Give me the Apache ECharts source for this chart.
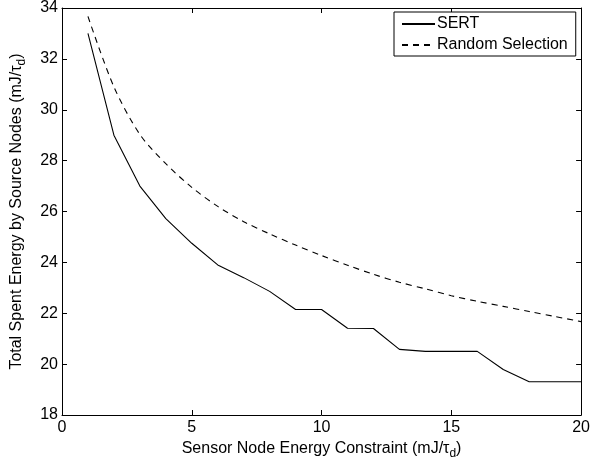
<!DOCTYPE html>
<html>
<head>
<meta charset="utf-8">
<script src="https://cdn.jsdelivr.net/npm/echarts@6/dist/echarts.min.js"></script>
<style>
html,body{margin:0;padding:0;background:#fff;}
#c{width:593px;height:465px;}
</style>
</head>
<body>
<div id="c"></div>
<script>
var xValues = [1,2,3,4,5,6,7,8,9,10,11,12,13,14,15,16,17,18,19,20];
var sertValues = [33.0,29.0,27.0,25.72,24.75,23.9,23.4,22.86,22.15,22.15,21.41,21.4,20.58,20.5,20.5,20.5,19.79,19.31,19.31,19.31];
var randomValues = [33.67,30.9,29.03,27.88,26.95,26.2,25.6,25.12,24.68,24.27,23.89,23.53,23.22,22.96,22.69,22.47,22.27,22.07,21.87,21.67];
var seriesNames = ['SERT','Random Selection'];
var xTicks = [0,5,10,15,20];
var yTicks = [18,20,22,24,26,28,30,32,34];

var FONT = 'Liberation Sans, Arial, Helvetica, sans-serif';
function pairs(xs, ys){ return xs.map(function(x,i){ return [x, ys[i]]; }); }

var subRich = {
  n: {fontFamily: FONT, fontSize: 16, color: '#000'},
  s: {fontFamily: FONT, fontSize: 12, color: '#000', padding: [10,0,0,0]}
};

var chart = echarts.init(document.getElementById('c'), null, {renderer: 'canvas'});
var axisCommon = {
  type: 'value',
  axisLine: {show: true, onZero: false, lineStyle: {color: '#000', width: 1}},
  axisTick: {show: true, inside: true, length: 5, lineStyle: {color: '#000', width: 1}},
  splitLine: {show: false}
};
chart.setOption({
  animation: false,
  backgroundColor: '#fff',
  grid: {left: 62, right: 10, top: 5, bottom: 48, containLabel: false},
  legend: {
    orient: 'vertical',
    left: 394, top: 12,
    padding: [4, 8, 3, 7],
    itemGap: 5,
    itemWidth: 33, itemHeight: 15,
    backgroundColor: '#fff',
    borderColor: '#000', borderWidth: 1, borderRadius: 0,
    itemStyle: {opacity: 0},
    textStyle: {fontFamily: FONT, fontSize: 16, color: '#000', padding: [0,0,0,-3]},
    data: seriesNames
  },
  xAxis: [
    Object.assign({}, axisCommon, {
      position: 'bottom', min: xTicks[0], max: xTicks[xTicks.length-1], interval: 5,
      axisLabel: {color: '#000', fontFamily: FONT, fontSize: 16, margin: 5},
      name: '{n|Sensor Node Energy Constraint (mJ/τ}{s|d}{n|)}',
      nameLocation: 'middle', nameGap: 23,
      nameTextStyle: {rich: subRich}
    }),
    Object.assign({}, axisCommon, {
      position: 'top', min: xTicks[0], max: xTicks[xTicks.length-1], interval: 5,
      axisLabel: {show: false}
    })
  ],
  yAxis: [
    Object.assign({}, axisCommon, {
      position: 'left', min: yTicks[0], max: yTicks[yTicks.length-1], interval: 2,
      axisLabel: {color: '#000', fontFamily: FONT, fontSize: 16, margin: 4},
      name: '{n|Total Spent Energy by Source Nodes (mJ/τ}{s|d}{n|)}',
      nameLocation: 'middle', nameGap: 34,
      nameTextStyle: {rich: subRich}
    }),
    Object.assign({}, axisCommon, {
      position: 'right', min: yTicks[0], max: yTicks[yTicks.length-1], interval: 2,
      axisLabel: {show: false}
    })
  ],
  series: [
    {
      name: seriesNames[0], type: 'line', xAxisIndex: 0, yAxisIndex: 0,
      data: pairs(xValues, sertValues),
      symbol: 'none', showSymbol: false,
      lineStyle: {color: '#000', width: 1.1, type: 'solid'},
      itemStyle: {color: '#000'}
    },
    {
      name: seriesNames[1], type: 'line', xAxisIndex: 0, yAxisIndex: 0,
      data: pairs(xValues, randomValues),
      symbol: 'none', showSymbol: false, smooth: 0.3,
      lineStyle: {color: '#000', width: 1.1, type: [6,5]},
      itemStyle: {color: '#000'}
    }
  ]
});
</script>
</body>
</html>
